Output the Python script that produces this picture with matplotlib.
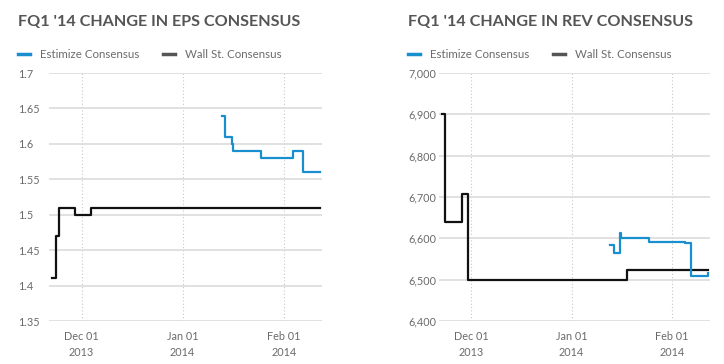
import matplotlib
matplotlib.use('Agg')
import matplotlib.pyplot as plt
import pandas as pd
from matplotlib.lines import Line2D

plt.rcParams['font.family'] = ['Lato', 'DejaVu Sans']

# EPS consensus
eps_ws_dates = ['2013-11-22 00:00', '2013-11-23 00:00', '2013-11-24 00:00', '2013-11-29 00:00',
                '2013-12-04 00:00', '2014-02-12 00:00']
eps_ws_vals = [1.41, 1.47, 1.51, 1.50, 1.51, 1.51]
eps_est_dates = ['2014-01-13 00:00', '2014-01-14 00:00', '2014-01-16 00:00', '2014-01-16 12:00',
                 '2014-01-25 00:00', '2014-02-04 00:00', '2014-02-07 00:00', '2014-02-12 00:00']
eps_est_vals = [1.64, 1.61, 1.60, 1.59, 1.58, 1.59, 1.56, 1.56]

# Revenue consensus
rev_ws_dates = ['2013-11-22 00:00', '2013-11-22 18:00', '2013-11-28 00:00', '2013-11-30 00:00',
                '2014-01-18 00:00', '2014-02-12 00:00']
rev_ws_vals = [6900, 6640, 6707, 6500, 6523, 6523]
rev_est_dates = ['2014-01-13 00:00', '2014-01-14 00:00', '2014-01-16 00:00', '2014-01-16 06:00',
                 '2014-01-25 00:00', '2014-02-05 00:00', '2014-02-07 00:00', '2014-02-11 00:00',
                 '2014-02-12 00:00']
rev_est_vals = [6585, 6565, 6612, 6600, 6590, 6588, 6508, 6508, 6515]

eps_ticks = [1.35, 1.4, 1.45, 1.5, 1.55, 1.6, 1.65, 1.7]
eps_ticklabels = ['1.35', '1.4', '1.45', '1.5', '1.55', '1.6', '1.65', '1.7']
rev_ticks = [6400, 6500, 6600, 6700, 6800, 6900, 7000]
rev_ticklabels = ['6,400', '6,500', '6,600', '6,700', '6,800', '6,900', '7,000']
x_ticks = ['2013-12-01', '2014-01-01', '2014-02-01']
x_ticklabels = ['Dec 01\n2013', 'Jan 01\n2014', 'Feb 01\n2014']

BLUE = '#1a8fd0'
BLACK = '#111111'
GRAY = '#6b6b6b'

fig = plt.figure(figsize=(7.24, 3.64), dpi=100)


def dt(lst):
    return pd.to_datetime(lst, format='mixed')


def setup(ax, yticks, yticklabels, ylim, title, tx):
    ax.set_xlim(pd.Timestamp('2013-11-21'), pd.Timestamp('2014-02-12 18:00'))
    ax.set_ylim(*ylim)
    ax.set_yticks(yticks)
    ax.set_yticklabels(yticklabels)
    ax.set_xticks(dt(x_ticks))
    ax.set_xticklabels(x_ticklabels, linespacing=1.55)
    for s in ax.spines.values():
        s.set_visible(False)
    ax.tick_params(axis='both', length=0, labelsize=7.8, colors=GRAY)
    ax.tick_params(axis='y', pad=22)
    ax.tick_params(axis='x', pad=7)
    for lab in ax.get_yticklabels():
        lab.set_horizontalalignment('left')
    ax.grid(axis='y', color='#dcdcdc', linewidth=1.2)
    ax.grid(axis='x', color='#c8c8c8', linestyle=(0, (1, 2)), linewidth=0.8)
    ax.set_axisbelow(True)
    fig.text(tx, 1 - 22 / 364, title, fontsize=11.6, fontweight='bold', color='#555555', va='center')
    # legend
    ly = 1 - 54 / 364
    fig.add_artist(Line2D([tx, tx + 12 / 724], [ly, ly], color=BLUE, lw=2.5, transform=fig.transFigure))
    fig.text(tx + 22 / 724, ly, 'Estimize Consensus', fontsize=8.3, color=GRAY, va='center')
    x2 = tx + 145 / 724
    fig.add_artist(Line2D([x2, x2 + 12 / 724], [ly, ly], color='#555555', lw=2.5, transform=fig.transFigure))
    fig.text(x2 + 22 / 724, ly, 'Wall St. Consensus', fontsize=8.3, color=GRAY, va='center')


ax1 = fig.add_axes([49 / 724, 1 - 321 / 364, 273 / 724, 248 / 364])
ax1.step(dt(eps_ws_dates), eps_ws_vals, where='post', color=BLACK, lw=1.6)
ax1.step(dt(eps_est_dates), eps_est_vals, where='post', color=BLUE, lw=1.6)
setup(ax1, eps_ticks, eps_ticklabels, (1.35, 1.7), "FQ1 '14 CHANGE IN EPS CONSENSUS", 18 / 724)

ax2 = fig.add_axes([439 / 724, 1 - 321 / 364, 271 / 724, 248 / 364])
ax2.step(dt(rev_ws_dates), rev_ws_vals, where='post', color=BLACK, lw=1.6)
ax2.step(dt(rev_est_dates), rev_est_vals, where='post', color=BLUE, lw=1.6)
setup(ax2, rev_ticks, rev_ticklabels, (6400, 7000), "FQ1 '14 CHANGE IN REV CONSENSUS", 408 / 724)

fig.savefig('out.png', dpi=100)
